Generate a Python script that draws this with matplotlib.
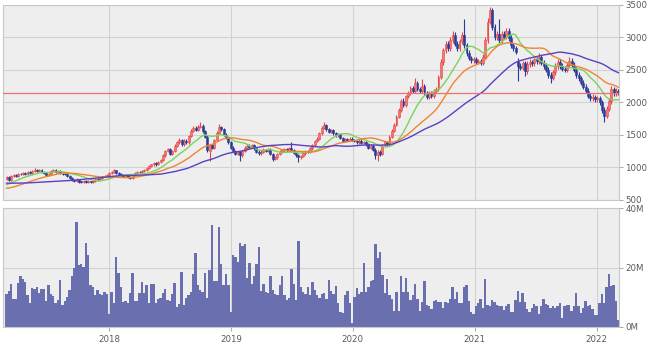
import numpy as np
import pandas as pd
import matplotlib
matplotlib.use('Agg')
import matplotlib.pyplot as plt

first_week = '2017-02-27'

# weekly candles (yen)
opens = [
    820, 845, 805, 860, 880, 865, 900, 890, 910, 895,
    920, 905, 940, 960, 935, 950, 930, 905, 880, 900,
    935, 955, 930, 945, 915, 900, 890, 860, 830, 800,
    790, 810, 775, 770, 790, 765, 780, 770, 790, 815,
    800, 830, 855, 870, 880, 905, 920, 950, 910, 890,
    875, 860, 880, 850, 825, 880, 910, 930, 920, 945,
    960, 990, 1010, 1040, 1060, 1040, 1080, 1110, 1180, 1250,
    1280, 1200, 1250, 1330, 1380, 1420, 1350, 1410, 1380, 1480,
    1560, 1610, 1570, 1620, 1640, 1550, 1470, 1250, 1340, 1300,
    1420, 1530, 1620, 1580, 1500, 1460, 1380, 1300, 1250, 1200,
    1230, 1180, 1250, 1300, 1330, 1310, 1340, 1290, 1240, 1210,
    1240, 1270, 1250, 1270, 1200, 1130, 1150, 1200, 1240, 1260,
    1280, 1260, 1290, 1260, 1220, 1180, 1150, 1170, 1210, 1250,
    1230, 1290, 1340, 1400, 1440, 1520, 1610, 1650, 1580, 1540,
    1570, 1520, 1490, 1510, 1450, 1400, 1430, 1420, 1440, 1420,
    1400, 1380, 1410, 1370, 1390, 1350, 1300, 1330, 1270, 1180,
    1230, 1200, 1330, 1380, 1350, 1470, 1560, 1650, 1780, 1880,
    2020, 1950, 2090, 2140, 2220, 2180, 2300, 2200, 2170, 2250,
    2140, 2080, 2140, 2090, 2170, 2200, 2390, 2620, 2800, 2900,
    2830, 2960, 3040, 2900, 2830, 2940, 3040, 2880, 2760, 2690,
    2650, 2670, 2620, 2640, 2610, 2700, 2960, 3240, 3420, 3160,
    3000, 3060, 2960, 3060, 3010, 3100, 2990, 2880, 2830, 2640,
    2560, 2530, 2600, 2480, 2590, 2620, 2600, 2660, 2630, 2700,
    2610, 2560, 2500, 2420, 2380, 2460, 2560, 2620, 2560, 2520,
    2500, 2580, 2640, 2580, 2500, 2420, 2370, 2300, 2240, 2180,
    2100, 2060, 2080, 2050, 2070, 2000, 1880, 1790, 1900, 2020,
    2200, 2140, 2180,
]
highs = [
    865, 860, 875, 895, 895, 915, 915, 925, 925, 935,
    935, 955, 980, 975, 965, 965, 945, 920, 915, 950,
    970, 965, 960, 960, 930, 915, 905, 875, 845, 815,
    825, 820, 790, 805, 800, 795, 790, 805, 830, 830,
    845, 870, 885, 895, 920, 935, 970, 960, 925, 905,
    890, 895, 895, 865, 895, 925, 945, 945, 960, 975,
    1005, 1030, 1055, 1080, 1075, 1095, 1130, 1200, 1270, 1300,
    1300, 1270, 1350, 1400, 1450, 1440, 1430, 1430, 1500, 1580,
    1630, 1630, 1645, 1690, 1660, 1570, 1490, 1360, 1360, 1440,
    1550, 1670, 1640, 1600, 1520, 1480, 1400, 1320, 1270, 1250,
    1250, 1270, 1320, 1350, 1350, 1360, 1360, 1310, 1260, 1260,
    1290, 1285, 1290, 1290, 1220, 1170, 1220, 1260, 1280, 1300,
    1300, 1310, 1390, 1280, 1240, 1200, 1190, 1230, 1270, 1270,
    1310, 1360, 1420, 1460, 1540, 1630, 1690, 1670, 1600, 1590,
    1590, 1540, 1530, 1530, 1470, 1450, 1450, 1460, 1460, 1440,
    1420, 1430, 1430, 1410, 1410, 1370, 1350, 1350, 1290, 1260,
    1260, 1350, 1400, 1400, 1490, 1580, 1680, 1800, 1910, 2050,
    2060, 2110, 2170, 2250, 2250, 2380, 2330, 2230, 2360, 2280,
    2170, 2170, 2170, 2200, 2230, 2420, 2660, 2840, 2940, 2940,
    3000, 3100, 3080, 2940, 2980, 3080, 3280, 2920, 2800, 2720,
    2700, 2700, 2670, 2670, 2740, 3000, 3300, 3470, 3450, 3200,
    3100, 3280, 3100, 3100, 3140, 3140, 3030, 2920, 2870, 2680,
    2600, 2640, 2640, 2630, 2660, 2650, 2690, 2700, 2760, 2730,
    2650, 2600, 2540, 2460, 2500, 2600, 2660, 2660, 2600, 2560,
    2620, 2700, 2680, 2620, 2540, 2460, 2410, 2340, 2280, 2220,
    2140, 2120, 2110, 2100, 2100, 2040, 1920, 1940, 2060, 2250,
    2240, 2220, 2210,
]
lows = [
    800, 790, 790, 845, 850, 850, 875, 875, 880, 880,
    890, 890, 925, 920, 920, 915, 890, 865, 865, 885,
    920, 915, 915, 900, 885, 875, 845, 815, 785, 770,
    775, 760, 750, 755, 750, 750, 755, 755, 775, 785,
    785, 815, 840, 855, 865, 890, 905, 895, 875, 860,
    845, 845, 835, 810, 810, 865, 895, 905, 905, 930,
    945, 975, 995, 1020, 1020, 1025, 1060, 1090, 1160, 1230,
    1180, 1180, 1230, 1310, 1360, 1330, 1330, 1360, 1360, 1460,
    1540, 1550, 1550, 1600, 1530, 1450, 1240, 1090, 1280, 1280,
    1400, 1510, 1560, 1480, 1440, 1360, 1280, 1230, 1180, 1180,
    1090, 1160, 1230, 1280, 1290, 1290, 1270, 1220, 1190, 1190,
    1220, 1230, 1230, 1180, 1090, 1110, 1130, 1180, 1220, 1240,
    1240, 1240, 1240, 1200, 1160, 1080, 1130, 1150, 1190, 1210,
    1210, 1270, 1320, 1380, 1420, 1500, 1590, 1560, 1520, 1520,
    1500, 1470, 1470, 1430, 1380, 1380, 1400, 1400, 1405, 1380,
    1360, 1360, 1350, 1350, 1330, 1280, 1280, 1250, 1120, 1100,
    1170, 1180, 1310, 1320, 1330, 1450, 1540, 1630, 1750, 1850,
    1920, 1920, 2060, 2110, 2150, 2150, 2170, 2140, 2140, 2110,
    2050, 2050, 2060, 2060, 2140, 2170, 2360, 2580, 2760, 2790,
    2790, 2920, 2860, 2790, 2790, 2900, 2840, 2720, 2650, 2610,
    2610, 2590, 2590, 2580, 2580, 2660, 2920, 3200, 3120, 2960,
    2960, 2920, 2920, 2970, 2970, 2950, 2840, 2790, 2740, 2330,
    2490, 2490, 2400, 2440, 2550, 2560, 2560, 2590, 2590, 2570,
    2520, 2460, 2380, 2300, 2340, 2420, 2520, 2520, 2480, 2460,
    2460, 2540, 2540, 2460, 2380, 2330, 2260, 2200, 2140, 2060,
    2020, 2020, 2010, 2010, 1960, 1840, 1700, 1750, 1860, 1980,
    2100, 2100, 2110,
]
closes = [
    845, 805, 860, 880, 865, 900, 890, 910, 895, 920,
    905, 940, 960, 935, 950, 930, 905, 880, 900, 935,
    955, 930, 945, 915, 900, 890, 860, 830, 800, 790,
    810, 775, 770, 790, 765, 780, 770, 790, 815, 800,
    830, 855, 870, 880, 905, 920, 950, 910, 890, 875,
    860, 880, 850, 825, 880, 910, 930, 920, 945, 960,
    990, 1010, 1040, 1060, 1040, 1080, 1110, 1180, 1250, 1280,
    1200, 1250, 1330, 1380, 1420, 1350, 1410, 1380, 1480, 1560,
    1610, 1570, 1620, 1640, 1550, 1470, 1260, 1340, 1300, 1420,
    1530, 1620, 1580, 1500, 1460, 1380, 1300, 1250, 1200, 1230,
    1180, 1250, 1300, 1330, 1310, 1340, 1290, 1240, 1210, 1240,
    1270, 1250, 1270, 1200, 1130, 1150, 1200, 1240, 1260, 1280,
    1260, 1290, 1260, 1220, 1180, 1150, 1170, 1210, 1250, 1230,
    1290, 1340, 1400, 1440, 1520, 1610, 1650, 1580, 1540, 1570,
    1520, 1490, 1510, 1450, 1400, 1430, 1420, 1440, 1420, 1400,
    1380, 1410, 1370, 1390, 1350, 1300, 1330, 1270, 1180, 1230,
    1200, 1330, 1380, 1350, 1470, 1560, 1650, 1780, 1880, 2020,
    1950, 2090, 2140, 2220, 2180, 2300, 2200, 2170, 2250, 2140,
    2080, 2140, 2090, 2170, 2200, 2390, 2620, 2800, 2900, 2830,
    2960, 3040, 2900, 2830, 2940, 3040, 2880, 2760, 2690, 2650,
    2670, 2620, 2640, 2610, 2700, 2960, 3240, 3420, 3160, 3000,
    3060, 2960, 3060, 3010, 3100, 2990, 2880, 2830, 2780, 2560,
    2530, 2600, 2480, 2590, 2620, 2600, 2660, 2630, 2700, 2610,
    2560, 2500, 2420, 2380, 2460, 2560, 2620, 2560, 2520, 2500,
    2580, 2640, 2580, 2500, 2420, 2370, 2300, 2240, 2180, 2100,
    2060, 2080, 2050, 2070, 2000, 1880, 1790, 1900, 2020, 2200,
    2140, 2180, 2150,
]

# weekly volume, millions of shares
volumes = [
    11.0, 12.1, 14.5, 9.3, 9.3, 14.7, 17.2, 16.2, 15.1, 10.8,
    7.9, 13.0, 12.8, 13.5, 11.4, 12.9, 12.9, 8.8, 14.1, 11.0,
    10.3, 7.9, 9.0, 15.7, 7.4, 8.8, 10.2, 12.4, 17.0, 20.0,
    35.3, 20.9, 21.1, 20.3, 28.1, 24.1, 14.2, 13.3, 10.6, 12.4,
    11.1, 10.8, 11.9, 11.0, 4.3, 11.9, 7.9, 23.5, 18.1, 13.6,
    8.5, 8.8, 8.0, 11.4, 18.1, 8.8, 8.8, 11.4, 15.1, 11.4,
    14.2, 7.9, 14.5, 14.5, 7.9, 9.3, 9.9, 11.4, 12.7, 9.1,
    8.8, 11.0, 14.7, 6.7, 7.6, 18.4, 7.4, 9.9, 10.8, 11.8,
    17.8, 24.8, 14.2, 12.5, 11.7, 18.1, 9.7, 19.0, 34.2, 15.5,
    15.3,
    33.5, 21.1, 14.2, 17.8, 14.2, 5.2, 24.3, 23.4, 22.0, 28.2,
    27.1, 27.9, 16.4, 21.5, 14.5, 17.2, 21.1, 26.8, 12.1, 14.5,
    11.7, 11.4, 17.0, 12.5, 11.0, 10.8, 14.2, 17.3, 10.8, 9.1,
    9.9, 19.4, 14.4, 9.1, 28.8, 13.3, 11.7, 11.0, 13.3, 10.6,
    15.1, 12.5, 10.6, 9.7, 11.0, 11.4, 9.3, 15.8, 12.1, 11.0,
    13.9, 8.0, 4.9, 4.6, 10.6, 12.1, 8.0, 1.2, 10.2, 13.0,
    11.0, 11.7, 21.5, 11.7, 13.6, 15.5, 15.8, 28.0, 23.2, 25.2,
    17.5, 11.4, 16.2, 10.6, 9.4, 5.4, 11.7, 5.4, 17.3, 11.7,
    16.6, 11.7, 9.1, 10.8, 14.4, 9.4, 5.4, 8.5, 15.5, 7.4, 6.9,
    6.1, 8.8, 9.1, 8.5, 8.5, 6.5, 8.5, 8.2, 9.4, 13.4,
    9.4, 11.6, 8.2, 8.2, 13.3, 14.1, 8.8, 4.9, 4.3, 6.9,
    8.0, 9.3, 6.3, 16.0, 7.4, 6.9, 9.1, 8.5, 7.4, 6.9,
    6.9, 5.7, 6.9, 7.6, 5.2, 4.9, 9.1, 12.1, 8.5, 11.4,
    8.5, 6.1, 4.9, 6.3, 7.6, 7.2, 4.3, 6.9, 9.4, 7.6,
    7.4, 6.3, 6.9, 6.3, 6.9, 8.0, 3.1, 6.9, 7.4, 7.4,
    5.4, 6.9, 11.4, 6.9, 4.6, 6.3, 8.8, 6.9, 7.4, 6.1,
    4.0, 4.0, 8.0, 11.0, 8.2, 13.6, 17.8, 13.8, 14.2, 8.8,
    2.2,
]

# closes of the year before the first candle, only used to seed the averages
closes_before = [
    880, 870, 860, 875, 850, 840, 860, 845, 830, 850,
    840, 820, 835, 825, 830, 845, 820, 810, 830, 815,
    820, 800, 810, 790, 780, 760,
    720, 680, 640, 620, 600, 590, 600, 580, 590, 600,
    610, 620, 640,
    650, 660, 640, 670, 690, 700, 720, 740, 760, 780,
    790, 810,
]

ma_periods = [13, 26, 52]
ma_colors = ['#7ad35a', '#ee8433', '#5a40c4']
years = [2018, 2019, 2020, 2021, 2022]
price_ticks = [500, 1000, 1500, 2000, 2500, 3000, 3500]
volume_ticks = [0, 20, 40]

up_color = '#f27878'
up_edge = '#e84444'
down_color = '#2c3b95'
vol_color = '#6a6fb0'
panel_bg = '#eeeeee'
grid_color = '#d2d2d2'
label_color = '#5a5a5a'

n = len(closes)
x = np.arange(n)
o = np.array(opens, float)
h = np.array(highs, float)
l = np.array(lows, float)
c = np.array(closes, float)
up = c >= o

start = pd.Timestamp(first_week)
year_pos = [(pd.Timestamp(f'{y}-01-01') - start).days / 7 for y in years]

fig = plt.figure(figsize=(6.5, 3.48), dpi=100)
W, H = 650, 348
left, right = 3, 619
ax = fig.add_axes([left / W, 1 - 199.5 / H, (right - left) / W, 194.5 / H])
axv = fig.add_axes([left / W, 1 - 327 / H, (right - left) / W, 119 / H])

for a in (ax, axv):
    a.set_facecolor(panel_bg)
    a.set_xlim(-1.5, 262.3)
    for s in a.spines.values():
        s.set_color('#c8c8c8')
        s.set_linewidth(0.8)
    a.yaxis.tick_right()
    a.tick_params(axis='y', length=3, width=0.6, color='#999999', pad=1.5,
                  labelsize=6.2, labelcolor=label_color)
    a.set_xticks(year_pos)
    a.grid(True, color=grid_color, linewidth=0.8)
    a.set_axisbelow(True)

# price panel
ax.set_ylim(500, 3500)
ax.set_yticks(price_ticks)
ax.tick_params(axis='x', length=0, labelbottom=False)

# wicks and bodies
wick_cols = np.where(up, up_edge, down_color)
ax.vlines(x, l, h, colors=wick_cols, linewidth=0.8, zorder=2)
body_lo = np.minimum(o, c)
body_h = np.maximum(np.abs(c - o), 8)
ax.bar(x[up], body_h[up], bottom=body_lo[up], width=0.82,
       color=up_color, edgecolor=up_edge, linewidth=0.4, zorder=3)
ax.bar(x[~up], body_h[~up], bottom=body_lo[~up], width=0.82,
       color=down_color, edgecolor=down_color, linewidth=0.4, zorder=3)

# moving averages of the close
full = pd.Series(closes_before + closes, dtype=float)
for p, col in zip(ma_periods, ma_colors):
    ma = full.rolling(p, min_periods=1).mean().iloc[len(closes_before):]
    ax.plot(x, ma.values, color=col, linewidth=1.0, zorder=4)

# latest price
ax.axhline(closes[-1], color='#f07070', linewidth=0.9, zorder=4)

# volume panel
axv.bar(x, volumes, width=1.0, color=vol_color, linewidth=0, zorder=2)
axv.set_ylim(0, 40)
axv.set_yticks(volume_ticks)
axv.set_yticklabels([f'{v}M' for v in volume_ticks])
axv.set_xticklabels([str(y) for y in years])
axv.tick_params(axis='x', length=3, width=0.6, color='#999999', pad=3,
                labelsize=6.2, labelcolor=label_color)

fig.savefig('out.png', dpi=100)
